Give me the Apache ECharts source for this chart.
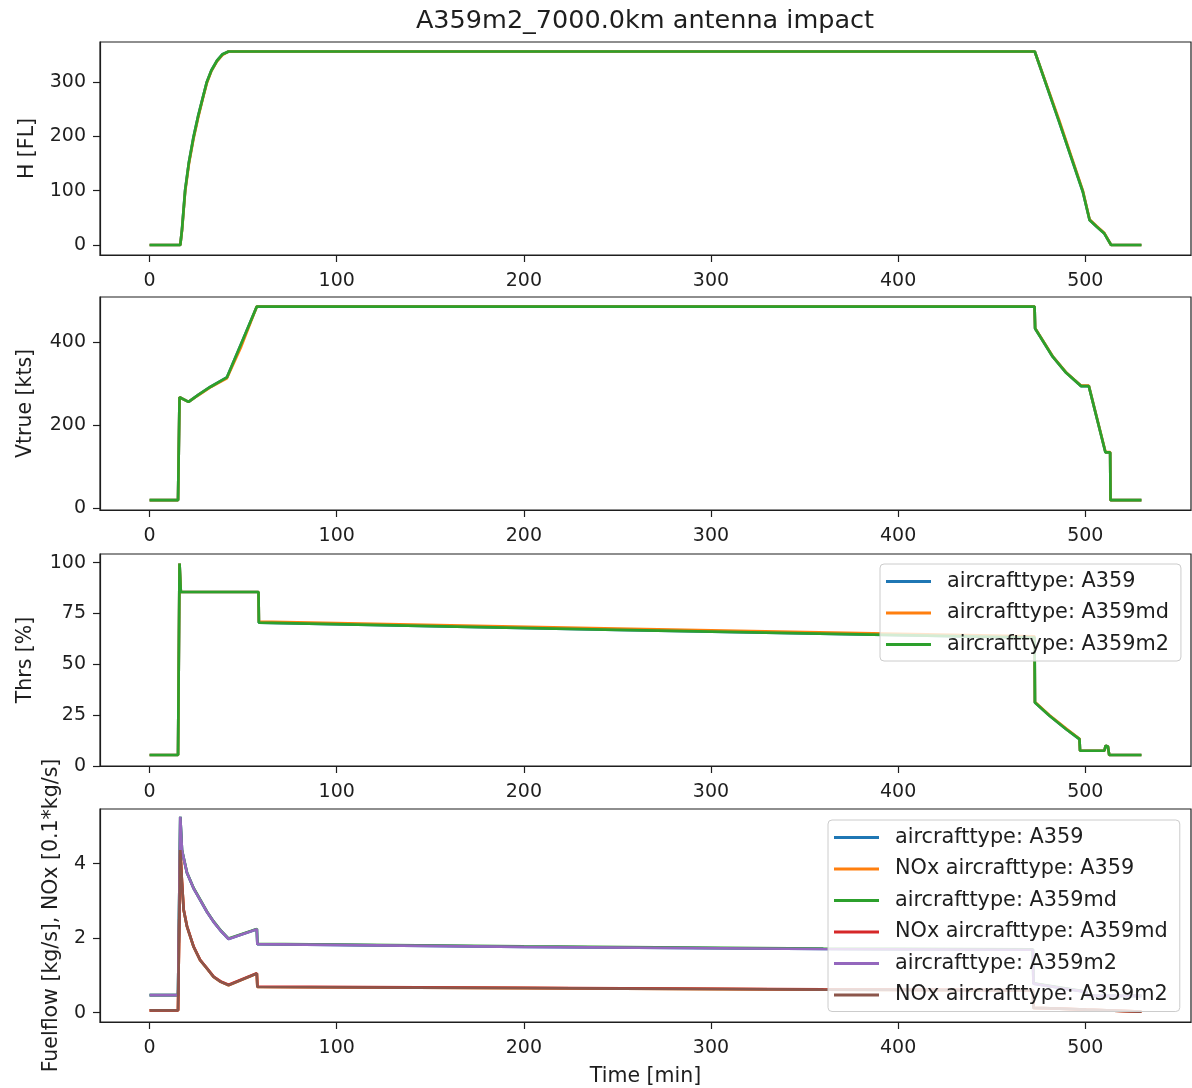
<!DOCTYPE html>
<html>
<head>
<meta charset="utf-8">
<script src="https://cdn.jsdelivr.net/npm/echarts@6.0.0/dist/echarts.min.js"></script>
<style>
  html, body { margin: 0; padding: 0; background: #fff; }
  #main { width: 1192px; height: 1088px; }
</style>
</head>
<body>
<div id="main"></div>
<script>
// tick labels
var xTicks = [0, 100, 200, 300, 400, 500];
var hTicks = [0, 100, 200, 300];
var vTicks = [0, 200, 400];
var tTicks = [0, 25, 50, 75, 100];
var fTicks = [0, 2, 4];

var types = ['aircrafttype: A359', 'aircrafttype: A359md', 'aircrafttype: A359m2'];

// altitude [FL]
var hTime   = [0, 16.4, 17.3, 19, 21, 23.5, 26, 28.2, 30.6, 33, 36, 39, 42.2, 473, 486, 498.7, 502.3, 506, 510.2, 513.8, 530];
var hA359   = [0, 0, 28, 101, 152, 199, 238, 268, 300, 321, 339, 351, 356, 356, 227, 98, 46, 34, 21, 0, 0];
var hA359md = [0, 0, 26, 98, 149, 196, 235, 266, 298, 320, 338, 350, 356, 356, 230, 100, 47, 35, 22, 0, 0];
var hA359m2 = [0, 0, 28, 101, 152, 199, 238, 268, 300, 321, 339, 351, 356, 356, 227, 98, 46, 34, 21, 0, 0];

// true airspeed [kts]
var vTime   = [0, 15.2, 16, 20.8, 26, 32.4, 41.3, 49, 57.3, 472.9, 473.2, 482.6, 489.8, 497.8, 501.9, 510.8, 513.3, 513.5, 530];
var vA359   = [19, 19, 267, 256, 273, 292, 315, 397, 486, 486, 433, 365, 326, 294, 294, 134, 134, 19, 19];
var vA359md = [19, 19, 267, 256, 272, 291, 313, 390, 486, 486, 434, 366, 327, 295, 295, 135, 135, 19, 19];
var vA359m2 = [19, 19, 267, 256, 273, 292, 315, 397, 486, 486, 433, 365, 326, 294, 294, 134, 134, 19, 19];

// thrust [%]
var tTime   = [0, 15.2, 16, 16.7, 58.2, 58.4, 250, 472.9, 473.1, 480.9, 489.8, 496.9, 497.2, 510.2, 510.9, 512.1, 512.8, 530];
var tA359   = [5.4, 5.4, 99.6, 85.6, 85.6, 70.5, 67.0, 63.2, 31.2, 24.7, 18.1, 13.2, 7.5, 7.5, 10, 9.6, 5.4, 5.4];
var tA359md = [5.4, 5.4, 99.6, 85.6, 85.6, 71.1, 67.6, 63.8, 31.5, 25.0, 18.4, 13.4, 7.5, 7.5, 10, 9.6, 5.4, 5.4];
var tA359m2 = [5.4, 5.4, 99.6, 85.6, 85.6, 70.5, 67.0, 63.2, 31.2, 24.7, 18.1, 13.2, 7.5, 7.5, 10, 9.6, 5.4, 5.4];

// fuel flow [kg/s] and NOx [0.1*kg/s]
var fTime      = [0, 15.2, 16.4, 17.3, 18.2, 20, 23.5, 27, 30.6, 34.2, 38, 42.2, 57.3, 57.6, 200, 360, 472, 472.3, 486, 500.5, 501, 530];
var ffA359     = [0.47, 0.47, 5.26, 4.37, 4.15, 3.75, 3.34, 3.03, 2.71, 2.44, 2.2, 1.98, 2.24, 1.84, 1.77, 1.71, 1.69, 0.78, 0.67, 0.56, 0.45, 0.45];
var noxA359    = [0.06, 0.06, 4.37, 3.5, 2.76, 2.31, 1.77, 1.41, 1.19, 0.96, 0.83, 0.74, 1.05, 0.69, 0.66, 0.62, 0.60, 0.13, 0.11, 0.08, 0.06, 0.03];
var ffA359md   = [0.47, 0.47, 5.26, 4.37, 4.16, 3.76, 3.35, 3.04, 2.72, 2.45, 2.21, 1.99, 2.25, 1.85, 1.78, 1.72, 1.70, 0.79, 0.68, 0.57, 0.45, 0.45];
var noxA359md  = [0.06, 0.06, 4.37, 3.5, 2.77, 2.32, 1.78, 1.42, 1.2, 0.97, 0.84, 0.75, 1.06, 0.70, 0.67, 0.63, 0.61, 0.13, 0.11, 0.08, 0.06, 0.03];
var ffA359m2   = [0.47, 0.47, 5.26, 4.37, 4.15, 3.75, 3.34, 3.03, 2.71, 2.44, 2.2, 1.98, 2.24, 1.84, 1.77, 1.71, 1.69, 0.78, 0.67, 0.56, 0.45, 0.45];
var noxA359m2  = [0.06, 0.06, 4.37, 3.5, 2.76, 2.31, 1.77, 1.41, 1.19, 0.96, 0.83, 0.74, 1.05, 0.69, 0.66, 0.62, 0.60, 0.13, 0.11, 0.08, 0.06, 0.03];

var C = ['#1f77b4', '#ff7f0e', '#2ca02c', '#d62728', '#9467bd', '#8c564b'];
var FONT = 'DejaVu Sans';
var INK = '#1e1e1e';

function pairs(t, v) {
  return t.map(function (x, i) { return [x, v[i]]; });
}

function line(name, gi, t, v, color) {
  return {
    name: name, type: 'line', xAxisIndex: gi, yAxisIndex: gi,
    data: pairs(t, v), symbol: 'none', showSymbol: false,
    color: color, lineStyle: { color: color, width: 2.7 },
    animation: false, z: 2
  };
}

function xAx(gi, name) {
  return {
    type: 'value', gridIndex: gi, min: -26.5, max: 556.5,
    splitLine: { show: false },
    axisLine: { show: true, onZero: false, lineStyle: { color: INK, width: 1.2 } },
    axisTick: { show: true, length: 7, lineStyle: { color: INK, width: 1.2 }, customValues: xTicks },
    axisLabel: { customValues: xTicks, fontSize: 19, color: INK, fontFamily: FONT, margin: 17 },
    name: name || '', nameLocation: 'middle', nameGap: 44,
    nameTextStyle: { fontSize: 20.5, color: INK, fontFamily: FONT }
  };
}

function yAx(gi, min, max, ticks, name, gap) {
  return {
    type: 'value', gridIndex: gi, min: min, max: max, position: 'left',
    splitLine: { show: false },
    axisLine: { show: true, onZero: false, lineStyle: { color: INK, width: 1.2 } },
    axisTick: { show: true, length: 7, lineStyle: { color: INK, width: 1.2 }, customValues: ticks },
    axisLabel: { customValues: ticks, fontSize: 19, color: INK, fontFamily: FONT, margin: 14 },
    name: name, nameLocation: 'middle', nameRotate: 90, nameGap: gap,
    nameTextStyle: { fontSize: 20.5, color: INK, fontFamily: FONT }
  };
}

function legendBox(left, top, names) {
  return {
    data: names, orient: 'vertical', left: left, top: top,
    padding: [7, 12, 6, 6], itemGap: 10.5, itemWidth: 45, itemHeight: 3, icon: 'rect',
    backgroundColor: 'rgba(255,255,255,0.8)', borderColor: '#cccccc', borderWidth: 1, borderRadius: 4,
    selectedMode: false,
    textStyle: { fontSize: 20.8, lineHeight: 21, color: INK, fontFamily: FONT, padding: [0, 0, 0, 11] },
    formatter: function (n) { return n.slice(n.indexOf(' ') + 1); }
  };
}

var gridBase = { left: 100, width: 1091, show: true, borderColor: INK, borderWidth: 1.2, backgroundColor: '#fff' };

var chart = echarts.init(document.getElementById('main'), null, { renderer: 'canvas' });

chart.setOption({
  backgroundColor: '#ffffff',
  animation: false,
  title: {
    text: 'A359m2_7000.0km antenna impact', left: 645, top: 8, padding: 0, textAlign: 'center',
    textStyle: { fontSize: 25.5, fontWeight: 'normal', color: INK, fontFamily: FONT }
  },
  grid: [
    Object.assign({ top: 42, height: 213 }, gridBase),
    Object.assign({ top: 297, height: 213 }, gridBase),
    Object.assign({ top: 554, height: 212 }, gridBase),
    Object.assign({ top: 809, height: 213 }, gridBase)
  ],
  xAxis: [xAx(0), xAx(1), xAx(2), xAx(3, 'Time [min]')],
  yAxis: [
    yAx(0, -18.4, 373.5, hTicks, 'H [FL]', 62),
    yAx(1, -4.8, 509, vTicks, 'Vtrue [kts]', 64),
    yAx(2, 0, 104.3, tTicks, 'Thrs [%]', 64),
    yAx(3, -0.25, 5.47, fTicks, 'Fuelflow [kg/s], NOx [0.1*kg/s]', 38)
  ],
  legend: [
    legendBox(880, 564, types.map(function (s) { return 'T ' + s; })),
    legendBox(828, 820, [
      'F aircrafttype: A359', 'F NOx aircrafttype: A359',
      'F aircrafttype: A359md', 'F NOx aircrafttype: A359md',
      'F aircrafttype: A359m2', 'F NOx aircrafttype: A359m2'
    ])
  ],
  series: [
    line('H ' + types[0], 0, hTime, hA359, C[0]),
    line('H ' + types[1], 0, hTime, hA359md, C[1]),
    line('H ' + types[2], 0, hTime, hA359m2, C[2]),

    line('V ' + types[0], 1, vTime, vA359, C[0]),
    line('V ' + types[1], 1, vTime, vA359md, C[1]),
    line('V ' + types[2], 1, vTime, vA359m2, C[2]),

    line('T ' + types[0], 2, tTime, tA359, C[0]),
    line('T ' + types[1], 2, tTime, tA359md, C[1]),
    line('T ' + types[2], 2, tTime, tA359m2, C[2]),

    line('F aircrafttype: A359', 3, fTime, ffA359, C[0]),
    line('F NOx aircrafttype: A359', 3, fTime, noxA359, C[1]),
    line('F aircrafttype: A359md', 3, fTime, ffA359md, C[2]),
    line('F NOx aircrafttype: A359md', 3, fTime, noxA359md, C[3]),
    line('F aircrafttype: A359m2', 3, fTime, ffA359m2, C[4]),
    line('F NOx aircrafttype: A359m2', 3, fTime, noxA359m2, C[5])
  ]
});
</script>
</body>
</html>
